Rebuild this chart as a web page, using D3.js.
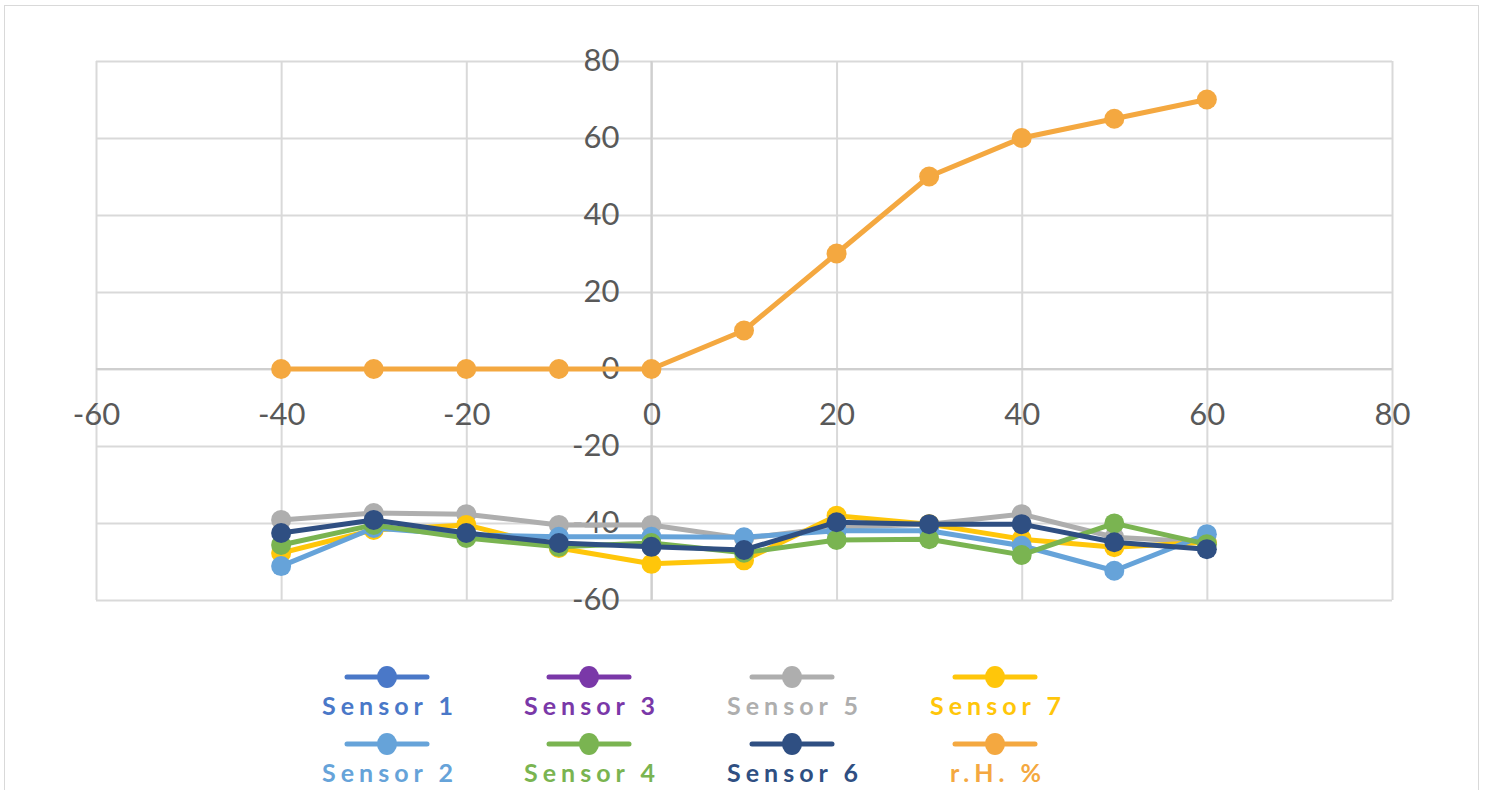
<html>
<head>
    <meta charset="utf-8">
    <script src="https://cdnjs.cloudflare.com/ajax/libs/d3/7.8.5/d3.min.js"></script>
    <style>
        body { margin: 0; background: white; }
    </style>
</head>
<body>
    <script>

// temperature steps (x) and readings per series
var temps   = [-40, -30, -20, -10, 0, 10, 20, 30, 40, 50, 60];
var sensor1 = [];
var sensor2 = [-51.2, -41.3, -43.1, -43.6, -43.6, -43.7, -42.0, -42.0, -45.9, -52.4, -42.9];
var sensor3 = [];
var sensor4 = [-45.7, -40.5, -43.9, -46.2, -45.2, -47.7, -44.4, -44.2, -48.3, -40.1, -45.5];
var sensor5 = [-39.2, -37.4, -37.7, -40.5, -40.5, -44.0, -41.1, -40.3, -37.7, -43.7, -45.0];
var sensor6 = [-42.6, -39.2, -42.6, -45.2, -46.2, -47.0, -39.8, -40.3, -40.3, -45.0, -46.8];
var sensor7 = [-47.8, -41.8, -40.5, -46.5, -50.6, -49.7, -38.1, -40.3, -44.2, -46.3, -45.0];
var rh      = [0, 0, 0, 0, 0, 10, 30, 50, 60, 65, 70];

var xTicks = [-60, -40, -20, 0, 20, 40, 60, 80];
var yTicks = [-60, -40, -20, 0, 20, 40, 60, 80];

var series = [
    { name: "Sensor 1", values: sensor1, color: "#4a78c8" },
    { name: "Sensor 2", values: sensor2, color: "#66a3d9" },
    { name: "Sensor 3", values: sensor3, color: "#7a38a8" },
    { name: "Sensor 4", values: sensor4, color: "#7ab451" },
    { name: "Sensor 5", values: sensor5, color: "#aeaeae" },
    { name: "Sensor 6", values: sensor6, color: "#2f4f82" },
    { name: "Sensor 7", values: sensor7, color: "#ffc60a" },
    { name: "r.H. %",   values: rh,      color: "#f4a840" }
];

// drawing order so the dark line sits on top like the original
var drawOrder = [4, 6, 1, 3, 5, 0, 2, 7];

var W = 1486, H = 790;
var pL = 96, pT = 61, pR = 1392, pB = 600;

var svg = d3.select("body").append("svg")
    .attr("width", W)
    .attr("height", H);

svg.append("rect")
    .attr("x", 4.5).attr("y", 5.5)
    .attr("width", 1474).attr("height", 820)
    .attr("fill", "white")
    .attr("stroke", "#d9d9d9");

var x = d3.scaleLinear().domain([-60, 80]).range([pL, pR]);
var y = d3.scaleLinear().domain([-60, 80]).range([pB, pT]);

// grid
svg.append("g")
    .attr("class", "grid")
    .attr("transform", "translate(0," + pB + ")")
    .call(d3.axisBottom(x).tickValues(xTicks).tickSize(-(pB - pT)).tickFormat(""));
svg.append("g")
    .attr("class", "grid")
    .attr("transform", "translate(" + pL + ",0)")
    .call(d3.axisLeft(y).tickValues(yTicks).tickSize(-(pR - pL)).tickFormat(""));
svg.selectAll(".grid .domain").remove();
svg.selectAll(".grid .tick line").attr("stroke", "#d9d9d9").attr("stroke-width", 2);

// zero axes
svg.append("line")
    .attr("x1", pL).attr("x2", pR)
    .attr("y1", y(0)).attr("y2", y(0))
    .attr("stroke", "#cfcfcf").attr("stroke-width", 2);
svg.append("line")
    .attr("x1", x(0)).attr("x2", x(0))
    .attr("y1", pT).attr("y2", pB)
    .attr("stroke", "#cfcfcf").attr("stroke-width", 2);

var fmt = d => String(d);
var xLab = svg.append("g")
    .attr("transform", "translate(0," + (y(0) + 34) + ")")
    .call(d3.axisBottom(x).tickValues(xTicks).tickSize(0).tickPadding(0).tickFormat(fmt));
var yLab = svg.append("g")
    .attr("transform", "translate(" + (x(0) - 32) + ",0)")
    .call(d3.axisLeft(y).tickValues(yTicks).tickSize(0).tickPadding(0).tickFormat(fmt));
[xLab, yLab].forEach(function (g) {
    g.select(".domain").remove();
    g.selectAll("text")
        .style("font-family", "Lato")
        .style("font-size", "31px")
        .attr("fill", "#595959");
});
xLab.selectAll("text").attr("dy", "0.71em");

var line = d3.line()
    .x((d, i) => x(temps[i]))
    .y(d => y(d));

drawOrder.forEach(function (k) {
    var s = series[k];
    if (!s.values.length) return;
    svg.append("path")
        .datum(s.values)
        .attr("fill", "none")
        .attr("stroke", s.color)
        .attr("stroke-width", 5)
        .attr("stroke-linejoin", "round")
        .attr("d", line);
    svg.append("g").selectAll("circle")
        .data(s.values)
        .enter()
        .append("circle")
        .attr("cx", (d, i) => x(temps[i]))
        .attr("cy", d => y(d))
        .attr("r", 10)
        .attr("fill", s.color);
});

// legend: 4 columns, 2 rows (column-major)
var colX = [387, 589, 792, 995];
var rowY = [677, 744];
series.forEach(function (s, i) {
    var cx = colX[Math.floor(i / 2)];
    var cy = rowY[i % 2];
    var lg = svg.append("g");
    lg.append("line")
        .attr("x1", cx - 40).attr("x2", cx + 40)
        .attr("y1", cy).attr("y2", cy)
        .attr("stroke", s.color).attr("stroke-width", 5)
        .attr("stroke-linecap", "round");
    lg.append("ellipse")
        .attr("cx", cx).attr("cy", cy)
        .attr("rx", 10).attr("ry", 11)
        .attr("fill", s.color);
    lg.append("text")
        .attr("x", cx + 3).attr("y", cy + 38)
        .attr("text-anchor", "middle")
        .style("font-family", "Lato")
        .style("font-weight", "bold")
        .style("font-size", "25px")
        .style("letter-spacing", "5px")
        .attr("fill", s.color)
        .text(s.name);
});

    </script>
</body>
</html>
